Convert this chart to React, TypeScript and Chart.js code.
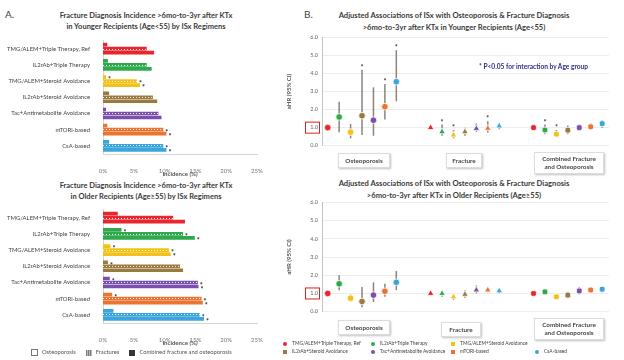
import React, { useEffect, useRef } from "react";
import { Chart, registerables } from "chart.js";
Chart.register(...registerables);

const FONT = "Lato, 'Open Sans', 'DejaVu Sans', sans-serif";

const regimens = [
  "TMG/ALEM+Triple Therapy, Ref",
  "IL2rAb+Triple Therapy",
  "TMG/ALEM+Steroid Avoidance",
  "IL2rAb+Steroid Avoidance",
  "Tac+Antimetabolite Avoidance",
  "mTORi-based",
  "CsA-based",
];
const colors = ["#e8262d", "#2ea94b", "#f2c21b", "#9b7a3f", "#7a4fae", "#ec7430", "#3aa6dd"];
const legendShapes = ["circle", "circle", "rect", "rect", "circle", "rect", "circle"];

// Panel A: incidence (%) in younger recipients
const aYoungComb = [0.7, 0.8, 0.5, 1.0, 0.5, 0.7, 1.0];
const aYoungFrac = [7.1, 7.1, 5.5, 8.1, 9.0, 9.8, 9.8];
const aYoungOst = [8.3, 7.9, 6.0, 8.8, 9.5, 10.3, 10.3];
const aYoungCombStar = [0, 0, 1, 0, 0, 0, 0];
const aYoungFracStar = [0, 0, 1, 0, 0, 1, 1];
const aYoungOstStar = [0, 0, 1, 0, 0, 1, 1];

// Panel A: incidence (%) in older recipients
const aOldComb = [2.4, 3.0, 1.2, 0.8, 1.1, 1.5, 1.7];
const aOldFrac = [11.4, 13.0, 10.7, 12.5, 15.4, 16.0, 15.7];
const aOldOst = [13.3, 14.9, 11.0, 13.0, 15.5, 16.2, 16.4];
const aOldCombStar = [0, 1, 1, 1, 1, 1, 0];
const aOldFracStar = [0, 1, 1, 0, 1, 1, 1];
const aOldOstStar = [0, 1, 1, 0, 1, 1, 1];

// Panel B: slot offsets of the three outcome groups
const groupOffsets = [0, 9, 18];
const groupNames = ["Osteoporosis", "Fracture", "Combined Fracture and Osteoporosis"];

// Panel B: younger recipients, aHR and 95% CI
const bYoungOstHR = [1.0, 1.59, 0.75, 1.66, 1.41, 2.16, 3.54];
const bYoungOstLo = [null, 0.75, 0.41, 0.59, 0.55, 1.45, 2.46];
const bYoungOstHi = [null, 2.43, 1.2, 4.21, 3.23, 3.41, 5.29];
const bYoungFracHR = [1.0, 0.77, 0.59, 0.77, 0.95, 0.96, 1.09];
const bYoungFracLo = [null, 0.55, 0.41, 0.55, 0.77, 0.73, 0.91];
const bYoungFracHi = [null, 1.18, 0.87, 1.0, 1.23, 1.36, 1.23];
const bYoungCombHR = [1.0, 0.87, 0.64, 0.86, 1.0, 1.05, 1.22];
const bYoungCombLo = [null, 0.64, 0.52, 0.64, 0.82, 0.87, 1.0];
const bYoungCombHi = [null, 1.18, 0.87, 1.12, 1.18, 1.23, 1.41];
const bYoungOstStar = [0, 0, 0, 1, 0, 1, 1];
const bYoungFracStar = [0, 1, 1, 0, 0, 1, 0];
const bYoungCombStar = [0, 1, 1, 0, 0, 0, 0];

// Panel B: older recipients, aHR and 95% CI
const bOldOstHR = [1.0, 1.53, 0.74, 0.56, 0.91, 1.12, 1.61];
const bOldOstLo = [null, 1.18, 0.56, 0.25, 0.53, 0.82, 1.18];
const bOldOstHi = [null, 2.0, 0.95, 1.35, 1.61, 1.53, 2.23];
const bOldFracHR = [1.0, 1.0, 0.81, 0.95, 1.19, 1.19, 1.14];
const bOldFracLo = [null, 0.82, 0.65, 0.77, 1.0, 1.05, 1.0];
const bOldFracHi = [null, 1.12, 0.95, 1.18, 1.44, 1.35, 1.3];
const bOldCombHR = [1.0, 1.09, 0.82, 0.91, 1.14, 1.19, 1.23];
const bOldCombLo = [null, 0.95, 0.7, 0.74, 0.95, 1.05, 1.05];
const bOldCombHi = [null, 1.23, 0.95, 1.09, 1.35, 1.35, 1.4];
const noStar = [0, 0, 0, 0, 0, 0, 0];

const yTickValues = [0, 0.5, 1, 1.5, 2, 2.5, 3, 3.5, 4, 4.5, 5, 5.5, 6];

function makePattern(color: string) {
  const c = document.createElement("canvas");
  c.width = 3;
  c.height = 4;
  const g = c.getContext("2d")!;
  g.fillStyle = color;
  g.fillRect(0, 0, 3, 4);
  g.fillStyle = "rgba(255,255,255,0.9)";
  g.fillRect(1, 1, 1, 1);
  return g.createPattern(c, "repeat")!;
}

function IncidenceChart(props: any) {
  const ref = useRef<HTMLCanvasElement>(null);
  useEffect(() => {
    const stars = [props.combStar, props.fracStar, props.ostStar];
    const starPlugin = {
      id: "barStars",
      afterDatasetsDraw(chart: any) {
        const ctx = chart.ctx;
        ctx.save();
        ctx.fillStyle = "#222";
        ctx.font = `bold 7px ${FONT}`;
        ctx.textBaseline = "middle";
        stars.forEach((arr: number[], di: number) => {
          const meta = chart.getDatasetMeta(di);
          arr.forEach((f, i) => {
            if (!f) return;
            const el = meta.data[i];
            ctx.fillText("*", el.x + 2, el.y + 3);
          });
        });
        ctx.restore();
      },
    };
    const chart = new Chart(ref.current!, {
      type: "bar",
      data: {
        labels: regimens,
        datasets: [
          { label: "Combined fracture and osteoporosis", data: props.comb, backgroundColor: colors, barPercentage: 0.92, categoryPercentage: 0.74 },
          { label: "Fractures", data: props.frac, backgroundColor: colors.map(makePattern), barPercentage: 0.92, categoryPercentage: 0.74 },
          { label: "Osteoporosis", data: props.ost, backgroundColor: colors, barPercentage: 0.92, categoryPercentage: 0.74 },
        ],
      },
      options: {
        indexAxis: "y",
        responsive: false,
        maintainAspectRatio: false,
        animation: false,
        layout: { padding: { top: 3, right: 15, left: 0, bottom: 0 } },
        plugins: { legend: { display: false }, tooltip: { enabled: false } },
        scales: {
          x: {
            min: 0,
            max: 25,
            ticks: { stepSize: 5, callback: (v: any) => v + "%", font: { family: FONT, size: 6 }, color: "#777", padding: 5 },
            grid: { display: false },
            border: { color: "#d5d5d5" },
            title: { display: true, text: "Incidence (%)", font: { family: FONT, size: 6, weight: "bold" }, color: "#555", padding: 0 },
            afterFit: (s: any) => {
              s.height = 24;
            },
          },
          y: {
            ticks: { font: { family: FONT, size: 5.9 }, color: "#444", autoSkip: false, padding: 5 },
            grid: { display: false },
            border: { color: "#d5d5d5" },
            afterFit: (s: any) => {
              s.width = 103;
            },
          },
        },
      } as any,
      plugins: [starPlugin],
    });
    return () => chart.destroy();
  }, []);
  return (
    <canvas
      ref={ref}
      width={272}
      height={146}
      style={{ position: "absolute", left: 0, top: props.top, width: 272, height: 146 }}
    />
  );
}

function HRChart(props: any) {
  const ref = useRef<HTMLCanvasElement>(null);
  useEffect(() => {
    const groups = [
      { hr: props.ost, lo: props.ostLo, hi: props.ostHi, star: props.ostStar },
      { hr: props.frac, lo: props.fracLo, hi: props.fracHi, star: props.fracStar },
      { hr: props.comb, lo: props.combLo, hi: props.combHi, star: props.combStar },
    ];
    const extras = {
      id: "hrExtras",
      beforeDatasetsDraw(chart: any) {
        const { ctx, scales } = chart;
        const x = scales.x;
        const y = scales.y;
        ctx.save();
        ctx.strokeStyle = "#8d837c";
        ctx.lineWidth = 1.5;
        groups.forEach((g, gi) => {
          g.lo.forEach((lo: number | null, i: number) => {
            const hi = g.hi[i];
            if (lo == null || hi == null) return;
            const px = x.getPixelForValue(groupOffsets[gi] + i);
            ctx.beginPath();
            ctx.moveTo(px, y.getPixelForValue(lo));
            ctx.lineTo(px, y.getPixelForValue(hi));
            ctx.stroke();
          });
        });
        ctx.restore();
      },
      afterDatasetsDraw(chart: any) {
        const { ctx, scales } = chart;
        const x = scales.x;
        const y = scales.y;
        ctx.save();
        ctx.fillStyle = "#333";
        ctx.font = `bold 7px ${FONT}`;
        ctx.textAlign = "center";
        ctx.textBaseline = "middle";
        groups.forEach((g, gi) => {
          g.star.forEach((s: number, i: number) => {
            if (!s) return;
            const topVal = g.hi[i] != null ? g.hi[i] : g.hr[i];
            const px = x.getPixelForValue(groupOffsets[gi] + i);
            ctx.fillText("*", px, y.getPixelForValue(topVal) - 2);
          });
        });
        const py = y.getPixelForValue(1);
        ctx.strokeStyle = "#e02020";
        ctx.lineWidth = 1;
        ctx.strokeRect(y.right - 16.5, py - 5.5, 14, 11);
        ctx.restore();
      },
    };
    const styles = ["circle", "triangle", "rectRounded"];
    const chart = new Chart(ref.current!, {
      type: "scatter",
      data: {
        datasets: regimens.map((name, i) => ({
          label: name,
          data: [
            { x: groupOffsets[0] + i, y: props.ost[i] },
            { x: groupOffsets[1] + i, y: props.frac[i] },
            { x: groupOffsets[2] + i, y: props.comb[i] },
          ],
          backgroundColor: colors[i],
          borderColor: "#ffffff",
          borderWidth: 0.8,
          pointStyle: styles,
          pointRadius: [3.3, 3.8, 3.3],
        })),
      },
      options: {
        responsive: false,
        maintainAspectRatio: false,
        animation: false,
        layout: { padding: { top: 5, right: 6, left: 0, bottom: 5 } },
        plugins: { legend: { display: false }, tooltip: { enabled: false } },
        scales: {
          x: { type: "linear", min: -0.5, max: 24.6, display: false },
          y: {
            min: 0,
            max: 6,
            afterBuildTicks: (s: any) => {
              s.ticks = yTickValues.map((v) => ({ value: v }));
            },
            ticks: { callback: (v: any) => Number(v).toFixed(1), font: { family: FONT, size: 5.5 }, color: "#666", padding: 4 },
            grid: { color: "#e8e8e8", lineWidth: 0.8, drawTicks: false },
            border: { color: "#c4c4c4" },
            title: { display: true, text: "aHR (95% CI)", font: { family: FONT, size: 6, weight: "bold" }, color: "#555", padding: 0 },
            afterFit: (s: any) => {
              s.width = 37;
            },
          },
        },
      } as any,
      plugins: [extras],
    });
    return () => chart.destroy();
  }, []);
  return (
    <canvas
      ref={ref}
      width={330}
      height={props.height}
      style={{ position: "absolute", left: 285, top: props.top, width: 330, height: props.height }}
    />
  );
}

const titleStyle: any = {
  position: "absolute",
  textAlign: "center",
  fontWeight: "bold",
  color: "#3a3a3a",
  whiteSpace: "nowrap",
};

function GroupBox({ left, top, width, height, text }: any) {
  return (
    <div
      style={{
        position: "absolute",
        left,
        top,
        width,
        height,
        border: "1px solid #dcdcdc",
        boxShadow: "1px 1px 2px rgba(0,0,0,0.25)",
        background: "#fff",
        fontSize: 6.3,
        fontWeight: "bold",
        color: "#444",
        textAlign: "center",
        display: "flex",
        alignItems: "center",
        justifyContent: "center",
        lineHeight: "8px",
      }}
    >
      {text}
    </div>
  );
}

function Marker({ shape, color }: any) {
  return (
    <span
      style={{
        display: "inline-block",
        width: 4,
        height: 4,
        background: color,
        borderRadius: shape === "circle" ? "50%" : 0,
        marginRight: 5,
        verticalAlign: "middle",
      }}
    />
  );
}

const legendPos = [
  [283, 340],
  [371, 340],
  [451, 340],
  [283, 348],
  [371, 348],
  [451, 348],
  [535, 348],
];

export default function App() {
  return (
    <div
      style={{
        position: "absolute",
        left: 0,
        top: 0,
        width: 624,
        height: 360,
        overflow: "hidden",
        background: "#fff",
        fontFamily: FONT,
      }}
    >
      <div style={{ position: "absolute", left: 5, top: 8, fontSize: 10, color: "#444" }}>A.</div>
      <div style={{ position: "absolute", left: 304, top: 8, fontSize: 10, color: "#444" }}>B.</div>

      <div style={{ ...titleStyle, left: 21, width: 250, top: 9.5, fontSize: 7.5, lineHeight: "11px" }}>
        Fracture Diagnosis Incidence &gt;6mo-to-3yr after KTx
        <br />
        in Younger Recipients (Age&lt;55) by ISx Regimens
      </div>
      <div style={{ ...titleStyle, left: 21, width: 250, top: 179.5, fontSize: 7.5, lineHeight: "11px" }}>
        Fracture Diagnosis Incidence &gt;6mo-to-3yr after KTx
        <br />
        in Older Recipients (Age≥55) by ISx Regimens
      </div>
      <div style={{ ...titleStyle, left: 320, width: 268, top: 9, fontSize: 7.6, lineHeight: "12px" }}>
        Adjusted Associations of ISx with Osteoporosis &amp; Fracture Diagnosis
        <br />
        &gt;6mo-to-3yr after KTx in Younger Recipients (Age&lt;55)
      </div>
      <div style={{ ...titleStyle, left: 320, width: 268, top: 177, fontSize: 7.6, lineHeight: "12px" }}>
        Adjusted Associations of ISx with Osteoporosis &amp; Fracture Diagnosis
        <br />
        &gt;6mo-to-3yr after KTx in Older Recipients (Age≥55)
      </div>

      <IncidenceChart
        top={32}
        comb={aYoungComb}
        frac={aYoungFrac}
        ost={aYoungOst}
        combStar={aYoungCombStar}
        fracStar={aYoungFracStar}
        ostStar={aYoungOstStar}
      />
      <IncidenceChart
        top={201}
        comb={aOldComb}
        frac={aOldFrac}
        ost={aOldOst}
        combStar={aOldCombStar}
        fracStar={aOldFracStar}
        ostStar={aOldOstStar}
      />

      <HRChart
        top={30}
        height={123}
        ost={bYoungOstHR}
        ostLo={bYoungOstLo}
        ostHi={bYoungOstHi}
        frac={bYoungFracHR}
        fracLo={bYoungFracLo}
        fracHi={bYoungFracHi}
        comb={bYoungCombHR}
        combLo={bYoungCombLo}
        combHi={bYoungCombHi}
        ostStar={bYoungOstStar}
        fracStar={bYoungFracStar}
        combStar={bYoungCombStar}
      />
      <HRChart
        top={195}
        height={124}
        ost={bOldOstHR}
        ostLo={bOldOstLo}
        ostHi={bOldOstHi}
        frac={bOldFracHR}
        fracLo={bOldFracLo}
        fracHi={bOldFracHi}
        comb={bOldCombHR}
        combLo={bOldCombLo}
        combHi={bOldCombHi}
        ostStar={noStar}
        fracStar={noStar}
        combStar={noStar}
      />

      <div style={{ position: "absolute", left: 479, top: 62, fontSize: 6.6, fontWeight: "bold", color: "#2b2f8f", whiteSpace: "nowrap" }}>
        * P&lt;0.05 for interaction by Age group
      </div>

      <GroupBox left={338} top={153} width={50} height={13} text={groupNames[0]} />
      <GroupBox left={446} top={153} width={34} height={13} text={groupNames[1]} />
      <GroupBox left={534} top={152} width={68} height={20} text={<span>Combined Fracture<br />and Osteoporosis</span>} />
      <GroupBox left={338} top={320} width={50} height={13} text={groupNames[0]} />
      <GroupBox left={441} top={322} width={38} height={13} text={groupNames[1]} />
      <GroupBox left={534} top={318} width={68} height={20} text={<span>Combined Fracture<br />and Osteoporosis</span>} />

      {regimens.map((name, i) => (
        <div
          key={name}
          style={{
            position: "absolute",
            left: legendPos[i][0],
            top: legendPos[i][1],
            fontSize: 4.9,
            lineHeight: "7px",
            color: "#444",
            whiteSpace: "nowrap",
          }}
        >
          <Marker shape={legendShapes[i]} color={colors[i]} />
          {name}
        </div>
      ))}

      <div style={{ position: "absolute", left: 31, top: 348, fontSize: 5.8, lineHeight: "8px", color: "#555", whiteSpace: "nowrap" }}>
        <span style={{ display: "inline-block", width: 5, height: 5, border: "1px solid #777", background: "#fff", marginRight: 4, verticalAlign: "middle" }} />
        Osteoporosis
        <span style={{ display: "inline-block", width: 6, height: 6, background: "repeating-linear-gradient(90deg,#777 0 1px,#bbb 1px 2px)", marginLeft: 10, marginRight: 4, verticalAlign: "middle" }} />
        Fractures
        <span style={{ display: "inline-block", width: 6, height: 6, background: "#333", marginLeft: 10, marginRight: 4, verticalAlign: "middle" }} />
        Combined fracture and osteoporosis
      </div>
    </div>
  );
}
